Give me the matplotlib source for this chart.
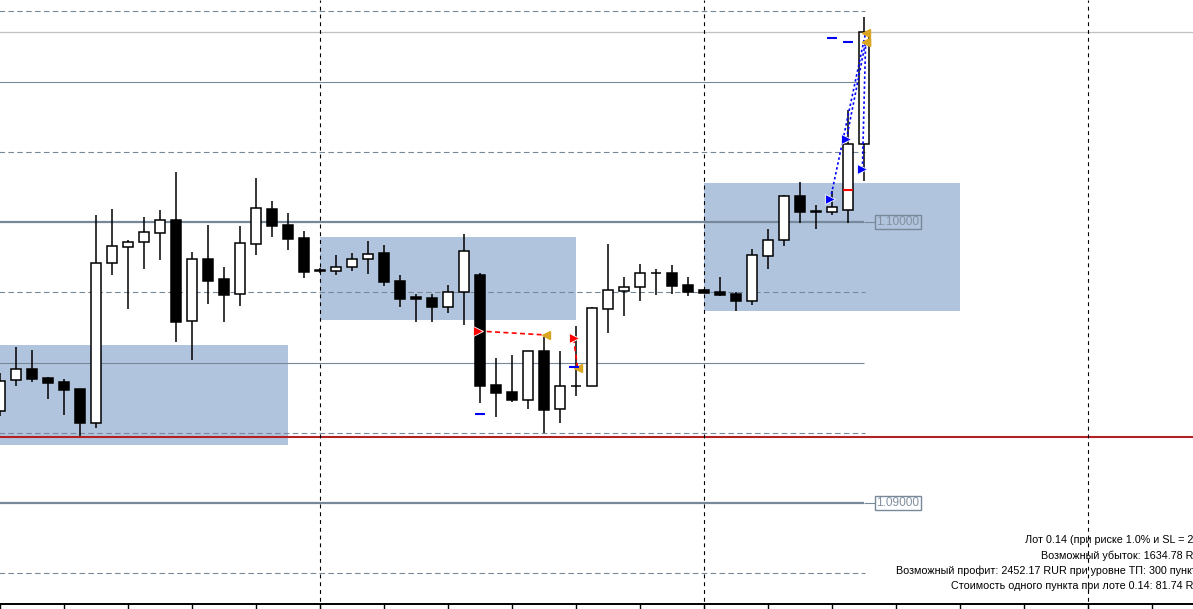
import numpy as np
import matplotlib
matplotlib.use('Agg')
import matplotlib.pyplot as plt
from matplotlib.patches import Rectangle

plt.rcParams['font.family'] = ['Liberation Sans', 'DejaVu Sans']

# Свечи (EURUSD, цены)
opens = [1.09327, 1.09438, 1.09477, 1.09445, 1.09431, 1.09406, 1.09285, 1.09854, 1.09911, 1.09929,
         1.09961, 1.10007, 1.09648, 1.09868, 1.09797, 1.09744, 1.09922, 1.10046, 1.09989, 1.09943,
         1.09829, 1.09826, 1.09840, 1.09868, 1.09890, 1.09790, 1.09733, 1.09730, 1.09697, 1.09751,
         1.09811, 1.09420, 1.09395, 1.09367, 1.09541, 1.09334, 1.09416, 1.09416, 1.09690, 1.09754,
         1.09769, 1.09818, 1.09818, 1.09776, 1.09758, 1.09751, 1.09744, 1.09719, 1.09879, 1.09936,
         1.10093, 1.10039, 1.10036, 1.10043, 1.10278]
highs = [1.09463, 1.09555, 1.09544, 1.09448, 1.09441, 1.09406, 1.10025, 1.10046, 1.09936, 1.10018,
         1.10043, 1.10178, 1.09893, 1.09989, 1.09840, 1.09986, 1.10157, 1.10075, 1.10032, 1.09968,
         1.09836, 1.09883, 1.09890, 1.09932, 1.09918, 1.09811, 1.09744, 1.09744, 1.09776, 1.09957,
         1.09818, 1.09516, 1.09527, 1.09541, 1.09591, 1.09541, 1.09630, 1.09697, 1.09922, 1.09804,
         1.09851, 1.09833, 1.09847, 1.09804, 1.09762, 1.09804, 1.09751, 1.09904, 1.09975, 1.10096,
         1.10142, 1.10061, 1.10110, 1.10399, 1.10730]
lows = [1.09310, 1.09416, 1.09431, 1.09370, 1.09313, 1.09238, 1.09267, 1.09811, 1.09690, 1.09833,
        1.09865, 1.09573, 1.09509, 1.09708, 1.09644, 1.09701, 1.09883, 1.09947, 1.09900, 1.09801,
        1.09818, 1.09811, 1.09826, 1.09815, 1.09772, 1.09697, 1.09644, 1.09644, 1.09676, 1.09633,
        1.09356, 1.09306, 1.09359, 1.09334, 1.09249, 1.09285, 1.09381, 1.09416, 1.09605, 1.09665,
        1.09719, 1.09740, 1.09744, 1.09737, 1.09747, 1.09737, 1.09683, 1.09705, 1.09833, 1.09915,
        1.09996, 1.09975, 1.10025, 1.09996, 1.10146]
closes = [1.09434, 1.09477, 1.09441, 1.09427, 1.09402, 1.09285, 1.09854, 1.09915, 1.09929, 1.09964,
          1.10007, 1.09644, 1.09868, 1.09790, 1.09740, 1.09925, 1.10050, 1.09986, 1.09940, 1.09822,
          1.09824, 1.09840, 1.09868, 1.09886, 1.09786, 1.09726, 1.09726, 1.09697, 1.09751, 1.09897,
          1.09416, 1.09391, 1.09367, 1.09541, 1.09331, 1.09416, 1.09416, 1.09694, 1.09758, 1.09769,
          1.09818, 1.09818, 1.09772, 1.09751, 1.09749, 1.09740, 1.09719, 1.09883, 1.09936, 1.10093,
          1.10036, 1.10036, 1.10053, 1.10278, 1.10676]

# Уровни
solid_levels = [1.10500, 1.09500]
round_levels = [1.10000, 1.09000]
dashed_levels = [1.10750, 1.10250, 1.09750, 1.09250, 1.08750]
red_level = 1.09235
day_separators = [20, 44, 68]

# Зоны (бар начала, бар конца, верх, низ)
zones_x0 = [-1, 20, 44]
zones_x1 = [18, 36, 60]
zones_top = [1.09562, 1.09945, 1.10139]
zones_bot = [1.09206, 1.09651, 1.09685]

# Сделки
sell_entry_x = [29.9, 35.85]
sell_entry_p = [1.09612, 1.09587]
sell_exit_x = [34.1, 36.1]
sell_exit_p = [1.09598, 1.09480]
buy_entry_x = [51.9, 52.9, 53.9]
buy_entry_p = [1.10082, 1.10295, 1.10189]
buy_exit_x = [54.1, 54.1, 54.1]
buy_exit_p = [1.10673, 1.10641, 1.10641]
sl_x = [30, 35.9, 52, 53]
sl_p = [1.09317, 1.09484, 1.10655, 1.10641]

info_lines = [
    'Лот 0.14 (при риске 1.0% и SL = 200)',
    'Возможный убыток: 1634.78 RUR',
    'Возможный профит: 2452.17 RUR при уровне ТП: 300 пунктов',
    'Стоимость одного пункта при лоте 0.14: 81.74 RUR',
]

W, H = 1193, 609
PX_BAR = 16
PX_PRICE = 28100
fig = plt.figure(figsize=(W / 100, H / 100), dpi=100)
ax = fig.add_axes([0, 0, 1, 1])
ax.set_xlim(0, W / PX_BAR)
ax.set_ylim(1.1 - (H - 222) / PX_PRICE, 1.1 + 222 / PX_PRICE)
ax.axis('off')

grid_c = '#778899'
n = len(opens)
last = n - 1

# зоны
for x0, x1, t, b in zip(zones_x0, zones_x1, zones_top, zones_bot):
    ax.add_patch(Rectangle((x0, b), x1 - x0, t - b, facecolor='#b0c4de', edgecolor='none', zorder=0))

# горизонтальные уровни
ax.hlines(dashed_levels, -1, last + 0.05, colors=grid_c, linewidth=0.8, linestyles=(0, (5, 3)), zorder=1)
ax.hlines(solid_levels, -1, last, colors=grid_c, linewidth=0.8, zorder=1)
ax.hlines(round_levels, -1, last, colors=grid_c, linewidth=1.6, zorder=1)
ax.hlines(round_levels, last, 54.7, colors=grid_c, linewidth=0.8, zorder=1)
for lv in round_levels:
    ax.text(54.78, lv, f'{lv:.5f}', fontsize=8.6, color='#8391a0', va='center', ha='left',
            bbox=dict(boxstyle='square,pad=0.1', fc='none', ec=grid_c, lw=1), zorder=2)
ax.axhline(closes[-1], color='#c0c0c0', linewidth=0.9, zorder=1)
ax.axhline(red_level, color='#b22222', linewidth=1.5, zorder=1)

# разделители дней
for d in day_separators:
    ax.axvline(d, color='black', linewidth=0.8, linestyle=(0, (3.5, 3.5)), zorder=1)

# свечи
x = np.arange(n)
o = np.array(opens)
c = np.array(closes)
ax.vlines(x, lows, highs, color='black', linewidth=1.1, zorder=3)
up = c >= o
ax.bar(x[up], c[up] - o[up], bottom=o[up], width=0.62, color='white', edgecolor='black',
       linewidth=1.1, zorder=4)
ax.bar(x[~up], o[~up] - c[~up], bottom=c[~up], width=0.62, color='black', edgecolor='black',
       linewidth=1.1, zorder=4)

# сделки
for x0, p0, x1, p1 in zip(sell_entry_x, sell_entry_p, sell_exit_x, sell_exit_p):
    ax.plot([x0, x1], [p0, p1], color='red', linewidth=1.2, linestyle=(0, (3, 2)), zorder=5)
for x0, p0, x1, p1 in zip(buy_entry_x, buy_entry_p, buy_exit_x, buy_exit_p):
    ax.plot([x0, x1], [p0, p1], color='blue', linewidth=1.2, linestyle=(0, (1.5, 1.5)), zorder=5)
ax.plot(sell_entry_x, sell_entry_p, '>', color='red', markersize=7, markeredgecolor='white',
        markeredgewidth=0.6, zorder=6)
ax.plot(buy_entry_x, buy_entry_p, '>', color='blue', markersize=7, markeredgecolor='white',
        markeredgewidth=0.6, zorder=6)
ax.plot(sell_exit_x + buy_exit_x, sell_exit_p + buy_exit_p, '<', color='#daa520', markersize=6,
        zorder=6)
ax.plot(sl_x, sl_p, '_', color='blue', markersize=7, markeredgewidth=1.5, zorder=6)
ax.plot([53], [1.10114], '_', color='red', markersize=7, markeredgewidth=1.5, zorder=6)

# нижняя шкала времени
ax.plot([0, 1], [1 - 604 / H] * 2, color='black', linewidth=1.4, transform=ax.transAxes,
        clip_on=False, zorder=7)
ax.vlines(np.arange(0, 76, 4), 0, 1 - 604 / H, color='black', linewidth=1,
          transform=ax.get_xaxis_transform(), zorder=7)

# информационный блок (обрезан правым краем, как в терминале)
for k, line in enumerate(info_lines):
    ax.text(1209 / W, 1 - (540 + 15.4 * k) / H, line, fontsize=7.75, color='black',
            ha='right', va='center', transform=ax.transAxes, clip_on=False, zorder=8)

fig.savefig('out.png', dpi=100)
